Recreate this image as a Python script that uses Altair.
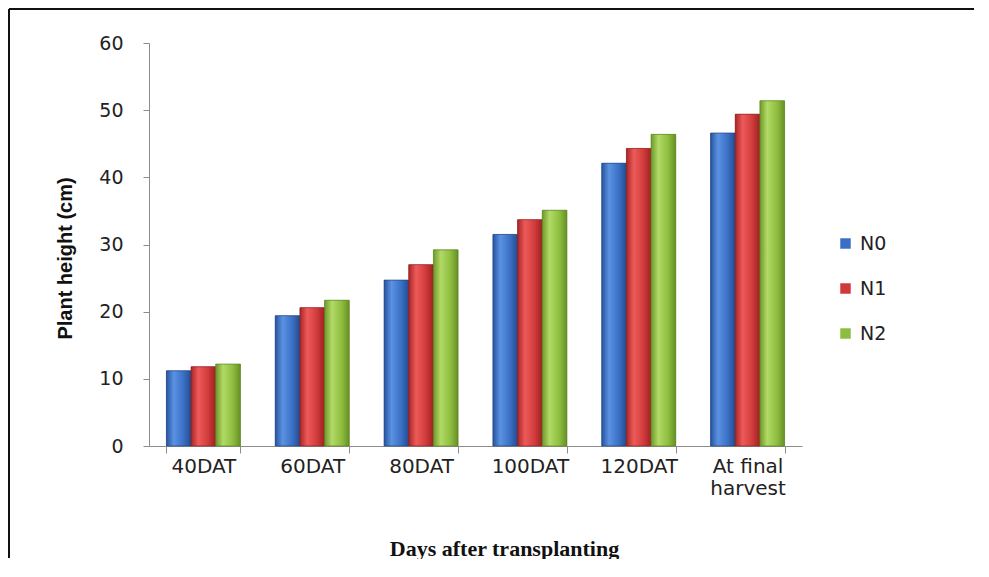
import altair as alt
import pandas as pd

# growth stages and plant height (cm) per nitrogen level
stages = ["40DAT", "60DAT", "80DAT", "100DAT", "120DAT", "At final harvest"]
levels = ["N0", "N1", "N2"]
n0 = [11.2, 19.4, 24.7, 31.5, 42.1, 46.6]
n1 = [11.8, 20.6, 27.0, 33.7, 44.3, 49.4]
n2 = [12.2, 21.7, 29.2, 35.1, 46.4, 51.4]
y_ticks = [0, 10, 20, 30, 40, 50, 60]

flat_colors = ["#3b6fc6", "#d03a3a", "#8dbd3e"]
shades = {
    "N0": ["#27549e", "#5b92e2", "#3a6fc4", "#234c90"],
    "N1": ["#a82626", "#ee5a5a", "#d03a3a", "#9c2222"],
    "N2": ["#6e9a2a", "#b2da66", "#8dbd3e", "#668f26"],
}
edge = {"N0": "#1f4585", "N1": "#8e1f1f", "N2": "#5e8424"}

rows = []
for lev, vals in zip(levels, [n0, n1, n2]):
    for st, v in zip(stages, vals):
        rows.append({"stage": st, "level": lev, "height": v})
df = pd.DataFrame(rows)

x_enc = alt.X(
    "stage:N",
    sort=stages,
    title="Days after transplanting",
    scale=alt.Scale(paddingInner=0.32, paddingOuter=0.16),
    axis=alt.Axis(
        labelAngle=0,
        labelFont="DejaVu Sans",
        labelFontSize=20,
        labelColor="#222222",
        labelPadding=3,
        labelLimit=300,
        labelLineHeight=22,
        labelExpr="datum.label == 'At final harvest' ? ['At final', 'harvest'] : datum.label",
        tickBand="extent",
        tickSize=7,
        tickColor="#8c8c8c",
        domainColor="#8c8c8c",
        titleFont="Liberation Serif",
        titleFontSize=22,
        titleFontWeight="bold",
        titleColor="#111111",
        titleX=355,
        titleY=102,
        titleAlign="center",
        titleBaseline="middle",
    ),
)
xoff = alt.XOffset("level:N", sort=levels,
                   scale=alt.Scale(domain=levels, paddingInner=0, paddingOuter=0))
y_enc = alt.Y(
    "height:Q",
    title="Plant height (cm)",
    scale=alt.Scale(domain=[0, 60], nice=False),
    axis=alt.Axis(
        values=y_ticks,
        grid=False,
        labelFont="DejaVu Sans",
        labelFontSize=19,
        labelColor="#222222",
        labelPadding=20,
        tickSize=6,
        tickColor="#8c8c8c",
        domainColor="#8c8c8c",
        titleFont="Liberation Sans",
        titleFontSize=20,
        titleFontWeight="bold",
        titleColor="#111111",
        titleAngle=270,
        titleX=-84,
        titleY=215,
        titleAlign="center",
        titleBaseline="middle",
    ),
)

base = alt.Chart(df).mark_bar().encode(
    x=x_enc,
    xOffset=xoff,
    y=y_enc,
    color=alt.Color(
        "level:N",
        scale=alt.Scale(domain=levels, range=flat_colors),
        legend=alt.Legend(
            title=None,
            orient="none",
            legendX=687,
            legendY=191,
            symbolType="square",
            symbolSize=110,
            symbolStrokeWidth=0,
            labelFont="DejaVu Sans",
            labelFontSize=19,
            labelColor="#222222",
            rowPadding=25,
            labelOffset=5,
        ),
    ),
)

layers = [base]
for lev in levels:
    s = shades[lev]
    grad = alt.Gradient(
        gradient="linear",
        stops=[
            alt.GradientStop(color=s[0], offset=0),
            alt.GradientStop(color=s[1], offset=0.3),
            alt.GradientStop(color=s[2], offset=0.7),
            alt.GradientStop(color=s[3], offset=1),
        ],
        x1=0, x2=1, y1=0, y2=0,
    )
    layers.append(
        alt.Chart(df).mark_bar(color=grad, stroke=edge[lev], strokeWidth=0.7)
        .encode(x=x_enc, xOffset=xoff, y=y_enc)
        .transform_filter(alt.datum.level == lev)
    )

# outer frame of the figure (top and left edges)
one = pd.DataFrame({"k": [0]})
frame_top = alt.Chart(one).mark_rule(color="#111111", strokeWidth=2).encode(
    x=alt.value(-140), x2=alt.value(825), y=alt.value(-34)
)
frame_left = alt.Chart(one).mark_rule(color="#111111", strokeWidth=2).encode(
    x=alt.value(-140), y=alt.value(-34), y2=alt.value(515)
)
layers += [frame_top, frame_left]

chart = alt.layer(*layers).properties(
    width=653, height=403, padding=0, background="white"
).configure_view(strokeWidth=0)

chart.save("out.html", embed_options={"renderer": "svg", "actions": False})
